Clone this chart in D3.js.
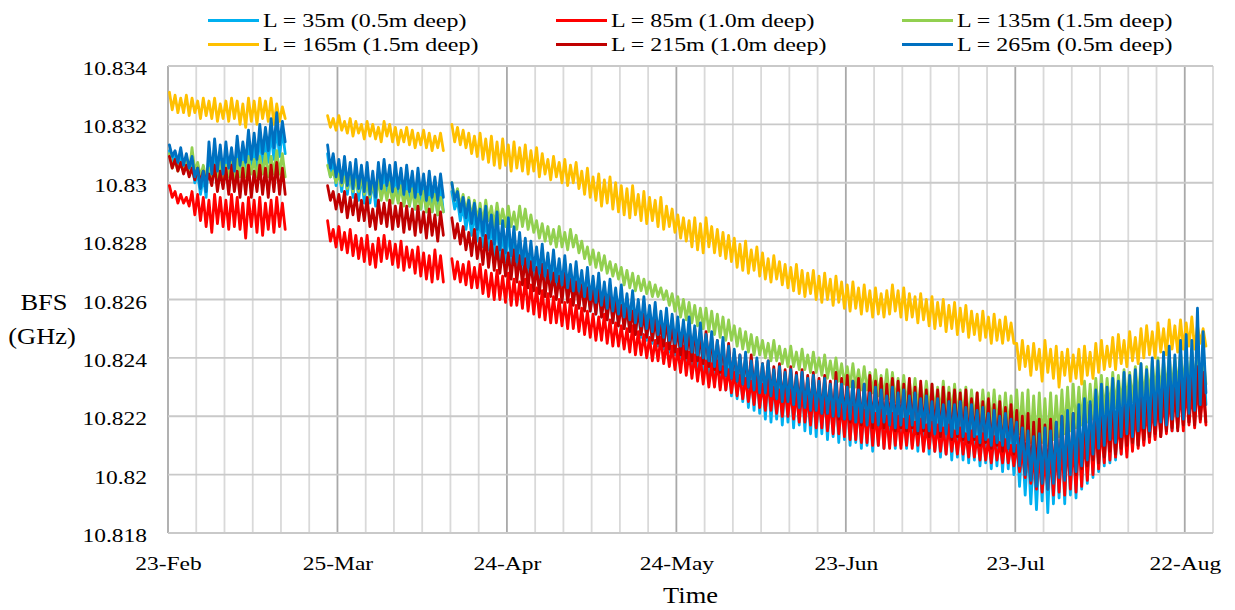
<!DOCTYPE html>
<html>
<head>
<meta charset="utf-8">
<script src="https://cdn.jsdelivr.net/npm/d3@7"></script>
<style>
  html, body { margin: 0; padding: 0; background: #fff; }
  svg { display: block; font-family: "Liberation Serif", "Times New Roman", serif; fill: #000; }
</style>
</head>
<body>
<svg id="chart" width="1235" height="610"></svg>
<script>
// Brillouin frequency shift (GHz) along the cable: one daily peak and one daily
// trough per location, for the three recording periods.
const periodStarts = ["2017-02-23", "2017-03-23", "2017-04-14"];
const seriesLabels = ["L = 35m (0.5m deep)", "L = 85m (1.0m deep)", "L = 135m (1.5m deep)",
                      "L = 165m (1.5m deep)", "L = 215m (1.0m deep)", "L = 265m (0.5m deep)"];
const seriesColors = ["#00B0F0", "#FF0000", "#92D050", "#FFC000", "#C00000", "#0070C0"];
const dateTicks = ["2017-02-23", "2017-03-25", "2017-04-24", "2017-05-24", "2017-06-23", "2017-07-23", "2017-08-22"];
const bfsTicks = [10.818, 10.82, 10.822, 10.824, 10.826, 10.828, 10.83, 10.832, 10.834];

// L = 35m
const l35Peak = [
  [10.8311,10.8310,10.8310,10.8308,10.8307,10.8303,10.8302,10.8310,10.8311,10.8310,10.8311,10.8310,10.8313,10.8311,10.8314,10.8313,10.8316,10.8315,10.8317,10.8319,10.8318],
  [10.8310,10.8307,10.8305,10.8306,10.8304,10.8305,10.8303,10.8304,10.8301,10.8304,10.8305,10.8303,10.8304,10.8302,10.8302,10.8301,10.8301,10.8300,10.8300,10.8299,10.8299],
  [10.8297,10.8294,10.8292,10.8291,10.8290,10.8288,10.8289,10.8286,10.8287,10.8284,
   10.8285,10.8282,10.8280,10.8278,10.8277,10.8275,10.8276,10.8273,10.8274,10.8271,
   10.8272,10.8269,10.8270,10.8267,10.8268,10.8265,10.8266,10.8263,10.8264,10.8261,
   10.8262,10.8259,10.8260,10.8257,10.8258,10.8255,10.8256,10.8253,10.8254,10.8252,
   10.8251,10.8250,10.8251,10.8248,10.8249,10.8245,10.8246,10.8243,10.8244,10.8241,
   10.8240,10.8238,10.8239,10.8236,10.8237,10.8235,10.8236,10.8233,10.8234,10.8232,
   10.8233,10.8231,10.8232,10.8230,10.8231,10.8229,10.8230,10.8228,10.8229,10.8228,
   10.8227,10.8229,10.8226,10.8228,10.8225,10.8227,10.8226,10.8224,10.8227,10.8225,
   10.8226,10.8224,10.8225,10.8223,10.8224,10.8222,10.8223,10.8221,10.8222,10.8221,
   10.8222,10.8220,10.8221,10.8219,10.8220,10.8218,10.8219,10.8217,10.8218,10.8216,
   10.8214,10.8212,10.8210,10.8208,10.8209,10.8211,10.8210,10.8213,10.8215,10.8217,
   10.8217,10.8220,10.8222,10.8221,10.8225,10.8227,10.8226,10.8229,10.8228,10.8231,
   10.8230,10.8232,10.8234,10.8232,10.8236,10.8235,10.8238,10.8240,10.8237,10.8242,
   10.8244,10.8242,10.8250,10.8245]
];
const l35Trough = [
  [10.8307,10.8305,10.8304,10.8303,10.8300,10.8296,10.8295,10.8300,10.8301,10.8300,10.8302,10.8301,10.8303,10.8303,10.8305,10.8304,10.8306,10.8307,10.8308,10.8309,10.8310],
  [10.8302,10.8299,10.8297,10.8296,10.8295,10.8294,10.8293,10.8293,10.8292,10.8295,10.8295,10.8294,10.8294,10.8293,10.8292,10.8291,10.8291,10.8290,10.8290,10.8289,10.8290],
  [10.8291,10.8287,10.8284,10.8282,10.8280,10.8278,10.8277,10.8275,10.8273,10.8272,
   10.8271,10.8269,10.8268,10.8267,10.8266,10.8265,10.8264,10.8263,10.8262,10.8261,
   10.8260,10.8259,10.8258,10.8257,10.8256,10.8255,10.8254,10.8253,10.8252,10.8251,
   10.8250,10.8249,10.8248,10.8247,10.8246,10.8245,10.8244,10.8243,10.8242,10.8241,
   10.8240,10.8238,10.8237,10.8235,10.8234,10.8232,10.8231,10.8230,10.8229,10.8227,
   10.8226,10.8225,10.8223,10.8222,10.8221,10.8219,10.8218,10.8219,10.8217,10.8218,
   10.8216,10.8217,10.8215,10.8214,10.8213,10.8214,10.8212,10.8213,10.8211,10.8212,
   10.8210,10.8211,10.8209,10.8210,10.8208,10.8210,10.8209,10.8210,10.8209,10.8210,
   10.8209,10.8210,10.8208,10.8209,10.8207,10.8208,10.8206,10.8207,10.8205,10.8206,
   10.8205,10.8204,10.8205,10.8203,10.8204,10.8202,10.8203,10.8201,10.8202,10.8200,
   10.8196,10.8193,10.8190,10.8188,10.8191,10.8187,10.8190,10.8192,10.8190,10.8193,
   10.8192,10.8195,10.8197,10.8199,10.8201,10.8203,10.8204,10.8205,10.8207,10.8208,
   10.8209,10.8210,10.8211,10.8212,10.8213,10.8214,10.8215,10.8215,10.8216,10.8217,
   10.8218,10.8219,10.8221,10.8224]
];

// L = 85m
const l85Peak = [
  [10.8299,10.8297,10.8296,10.8295,10.8297,10.8296,10.8295,10.8294,10.8296,10.8295,10.8294,10.8296,10.8295,10.8293,10.8295,10.8294,10.8295,10.8293,10.8294,10.8295,10.8293],
  [10.8287,10.8284,10.8285,10.8283,10.8284,10.8282,10.8281,10.8282,10.8279,10.8281,10.8282,10.8280,10.8279,10.8280,10.8278,10.8277,10.8278,10.8276,10.8275,10.8277,10.8275],
  [10.8274,10.8273,10.8272,10.8273,10.8271,10.8272,10.8270,10.8269,10.8270,10.8268,
   10.8269,10.8267,10.8266,10.8267,10.8265,10.8264,10.8263,10.8262,10.8261,10.8260,
   10.8259,10.8260,10.8258,10.8257,10.8256,10.8255,10.8254,10.8255,10.8253,10.8252,
   10.8251,10.8250,10.8251,10.8249,10.8248,10.8247,10.8246,10.8247,10.8245,10.8244,
   10.8243,10.8244,10.8242,10.8241,10.8240,10.8239,10.8238,10.8239,10.8237,10.8236,
   10.8235,10.8234,10.8233,10.8232,10.8233,10.8231,10.8232,10.8230,10.8229,10.8230,
   10.8229,10.8228,10.8229,10.8227,10.8228,10.8226,10.8227,10.8225,10.8226,10.8224,
   10.8225,10.8223,10.8224,10.8222,10.8223,10.8221,10.8222,10.8220,10.8221,10.8220,
   10.8219,10.8220,10.8218,10.8219,10.8217,10.8218,10.8217,10.8216,10.8217,10.8215,
   10.8216,10.8214,10.8215,10.8213,10.8214,10.8212,10.8213,10.8211,10.8212,10.8210,
   10.8210,10.8208,10.8209,10.8206,10.8207,10.8205,10.8207,10.8209,10.8210,10.8212,
   10.8211,10.8213,10.8214,10.8215,10.8217,10.8216,10.8218,10.8219,10.8218,10.8220,
   10.8221,10.8222,10.8221,10.8223,10.8224,10.8225,10.8226,10.8227,10.8228,10.8229,
   10.8230,10.8229,10.8231,10.8229]
];
const l85Trough = [
  [10.8295,10.8293,10.8293,10.8292,10.8289,10.8287,10.8285,10.8283,10.8286,10.8285,10.8284,10.8285,10.8284,10.8281,10.8285,10.8283,10.8282,10.8284,10.8283,10.8285,10.8284],
  [10.8280,10.8278,10.8277,10.8276,10.8275,10.8274,10.8273,10.8272,10.8271,10.8273,10.8274,10.8272,10.8271,10.8270,10.8271,10.8269,10.8268,10.8267,10.8266,10.8267,10.8266],
  [10.8267,10.8266,10.8265,10.8264,10.8264,10.8262,10.8261,10.8260,10.8260,10.8259,
   10.8258,10.8258,10.8257,10.8256,10.8255,10.8254,10.8253,10.8252,10.8252,10.8251,
   10.8250,10.8250,10.8249,10.8248,10.8247,10.8246,10.8246,10.8245,10.8244,10.8244,
   10.8243,10.8242,10.8241,10.8241,10.8240,10.8239,10.8239,10.8238,10.8237,10.8236,
   10.8235,10.8234,10.8233,10.8232,10.8231,10.8230,10.8230,10.8229,10.8229,10.8228,
   10.8227,10.8226,10.8225,10.8224,10.8223,10.8222,10.8222,10.8221,10.8220,10.8220,
   10.8219,10.8218,10.8218,10.8217,10.8216,10.8216,10.8215,10.8214,10.8214,10.8213,
   10.8212,10.8212,10.8211,10.8211,10.8210,10.8210,10.8209,10.8209,10.8210,10.8209,
   10.8210,10.8209,10.8210,10.8208,10.8209,10.8208,10.8208,10.8207,10.8208,10.8207,
   10.8207,10.8206,10.8206,10.8205,10.8205,10.8204,10.8205,10.8204,10.8204,10.8203,
   10.8201,10.8199,10.8197,10.8195,10.8194,10.8195,10.8193,10.8194,10.8193,10.8195,
   10.8194,10.8196,10.8198,10.8200,10.8202,10.8204,10.8205,10.8206,10.8207,10.8206,
   10.8208,10.8209,10.8210,10.8211,10.8212,10.8213,10.8214,10.8215,10.8216,10.8215,
   10.8217,10.8216,10.8218,10.8217]
];

// L = 135m
const l135Peak = [
  [10.8310,10.8308,10.8307,10.8308,10.8312,10.8307,10.8306,10.8305,10.8306,10.8307,10.8306,10.8307,10.8308,10.8307,10.8309,10.8308,10.8309,10.8310,10.8309,10.8311,10.8310],
  [10.8306,10.8304,10.8303,10.8302,10.8303,10.8301,10.8302,10.8300,10.8300,10.8301,10.8299,10.8300,10.8298,10.8299,10.8297,10.8298,10.8296,10.8297,10.8295,10.8296,10.8295],
  [10.8300,10.8298,10.8296,10.8295,10.8294,10.8293,10.8294,10.8292,10.8293,10.8291,
   10.8292,10.8290,10.8292,10.8291,10.8289,10.8287,10.8286,10.8285,10.8284,10.8285,
   10.8283,10.8284,10.8282,10.8280,10.8278,10.8277,10.8276,10.8275,10.8273,10.8272,
   10.8271,10.8270,10.8269,10.8268,10.8267,10.8266,10.8265,10.8264,10.8263,10.8262,
   10.8261,10.8260,10.8259,10.8258,10.8257,10.8257,10.8256,10.8255,10.8254,10.8253,
   10.8251,10.8250,10.8249,10.8248,10.8247,10.8246,10.8245,10.8246,10.8244,10.8243,
   10.8244,10.8242,10.8243,10.8241,10.8242,10.8240,10.8241,10.8239,10.8240,10.8238,
   10.8237,10.8238,10.8236,10.8237,10.8235,10.8236,10.8234,10.8236,10.8235,10.8233,
   10.8234,10.8232,10.8233,10.8231,10.8232,10.8231,10.8230,10.8232,10.8230,10.8231,
   10.8229,10.8230,10.8229,10.8228,10.8229,10.8228,10.8229,10.8227,10.8228,10.8227,
   10.8229,10.8228,10.8229,10.8227,10.8228,10.8226,10.8228,10.8227,10.8229,10.8230,
   10.8231,10.8230,10.8232,10.8231,10.8233,10.8234,10.8233,10.8235,10.8234,10.8236,
   10.8235,10.8237,10.8238,10.8237,10.8239,10.8240,10.8239,10.8241,10.8240,10.8242,
   10.8241,10.8243,10.8242,10.8241]
];
const l135Trough = [
  [10.8305,10.8304,10.8304,10.8303,10.8304,10.8302,10.8301,10.8301,10.8302,10.8301,10.8302,10.8301,10.8302,10.8302,10.8303,10.8302,10.8303,10.8302,10.8303,10.8303,10.8302],
  [10.8302,10.8300,10.8299,10.8298,10.8297,10.8297,10.8296,10.8295,10.8295,10.8294,10.8294,10.8293,10.8293,10.8292,10.8292,10.8291,10.8291,10.8290,10.8290,10.8289,10.8290],
  [10.8294,10.8292,10.8290,10.8288,10.8287,10.8286,10.8287,10.8285,10.8286,10.8285,
   10.8285,10.8284,10.8285,10.8284,10.8283,10.8281,10.8280,10.8279,10.8278,10.8278,
   10.8277,10.8278,10.8276,10.8274,10.8272,10.8271,10.8270,10.8269,10.8268,10.8267,
   10.8265,10.8264,10.8263,10.8263,10.8262,10.8261,10.8261,10.8260,10.8258,10.8256,
   10.8254,10.8253,10.8252,10.8251,10.8250,10.8249,10.8248,10.8247,10.8246,10.8246,
   10.8244,10.8243,10.8242,10.8241,10.8241,10.8240,10.8239,10.8239,10.8238,10.8237,
   10.8237,10.8236,10.8236,10.8235,10.8235,10.8234,10.8233,10.8233,10.8232,10.8231,
   10.8230,10.8230,10.8229,10.8229,10.8228,10.8227,10.8226,10.8226,10.8225,10.8225,
   10.8224,10.8224,10.8223,10.8223,10.8222,10.8222,10.8221,10.8221,10.8221,10.8220,
   10.8220,10.8219,10.8219,10.8218,10.8218,10.8217,10.8217,10.8216,10.8216,10.8215,
   10.8214,10.8212,10.8211,10.8210,10.8211,10.8210,10.8212,10.8213,10.8214,10.8215,
   10.8216,10.8217,10.8218,10.8219,10.8220,10.8221,10.8222,10.8223,10.8224,10.8225,
   10.8225,10.8226,10.8226,10.8227,10.8228,10.8228,10.8229,10.8229,10.8230,10.8231,
   10.8231,10.8232,10.8232,10.8231]
];

// L = 165m
const l165Peak = [
  [10.8331,10.8330,10.8329,10.8330,10.8329,10.8328,10.8329,10.8328,10.8329,10.8327,10.8328,10.8329,10.8328,10.8327,10.8329,10.8328,10.8329,10.8328,10.8329,10.8327,10.8326],
  [10.8323,10.8322,10.8323,10.8321,10.8322,10.8321,10.8320,10.8321,10.8320,10.8319,10.8321,10.8320,10.8319,10.8318,10.8319,10.8318,10.8317,10.8318,10.8317,10.8316,10.8317],
  [10.8320,10.8319,10.8318,10.8317,10.8316,10.8317,10.8315,10.8316,10.8314,10.8315,
   10.8313,10.8314,10.8312,10.8313,10.8311,10.8312,10.8310,10.8308,10.8309,10.8307,
   10.8308,10.8306,10.8307,10.8304,10.8305,10.8302,10.8303,10.8301,10.8302,10.8300,
   10.8299,10.8298,10.8299,10.8296,10.8297,10.8295,10.8294,10.8295,10.8292,10.8291,
   10.8289,10.8288,10.8287,10.8288,10.8286,10.8288,10.8285,10.8284,10.8283,10.8282,
   10.8281,10.8279,10.8280,10.8277,10.8278,10.8276,10.8274,10.8275,10.8273,10.8272,
   10.8271,10.8272,10.8270,10.8269,10.8270,10.8268,10.8269,10.8267,10.8268,10.8266,
   10.8265,10.8266,10.8264,10.8265,10.8263,10.8264,10.8262,10.8263,10.8265,10.8263,
   10.8264,10.8262,10.8261,10.8262,10.8260,10.8261,10.8259,10.8260,10.8258,10.8259,
   10.8257,10.8258,10.8256,10.8255,10.8256,10.8254,10.8255,10.8253,10.8254,10.8252,
   10.8245,10.8246,10.8244,10.8245,10.8243,10.8246,10.8243,10.8244,10.8242,10.8243,
   10.8241,10.8243,10.8244,10.8242,10.8245,10.8246,10.8244,10.8247,10.8248,10.8246,
   10.8249,10.8247,10.8250,10.8251,10.8249,10.8252,10.8250,10.8253,10.8251,10.8253,
   10.8252,10.8254,10.8251,10.8250]
];
const l165Trough = [
  [10.8325,10.8324,10.8324,10.8323,10.8324,10.8322,10.8323,10.8322,10.8321,10.8322,10.8321,10.8322,10.8320,10.8319,10.8321,10.8320,10.8322,10.8321,10.8320,10.8321,10.8322],
  [10.8319,10.8318,10.8318,10.8317,10.8316,10.8317,10.8315,10.8316,10.8315,10.8314,10.8316,10.8314,10.8313,10.8314,10.8313,10.8312,10.8313,10.8312,10.8311,10.8312,10.8311],
  [10.8314,10.8313,10.8312,10.8310,10.8309,10.8308,10.8307,10.8306,10.8305,10.8306,
   10.8304,10.8305,10.8304,10.8303,10.8304,10.8302,10.8303,10.8301,10.8302,10.8300,
   10.8299,10.8300,10.8298,10.8296,10.8295,10.8294,10.8292,10.8293,10.8291,10.8290,
   10.8289,10.8288,10.8289,10.8287,10.8286,10.8287,10.8285,10.8284,10.8285,10.8283,
   10.8281,10.8280,10.8278,10.8277,10.8276,10.8278,10.8276,10.8275,10.8274,10.8273,
   10.8271,10.8270,10.8269,10.8270,10.8268,10.8267,10.8266,10.8267,10.8265,10.8264,
   10.8263,10.8262,10.8261,10.8262,10.8260,10.8259,10.8260,10.8258,10.8259,10.8257,
   10.8256,10.8257,10.8255,10.8256,10.8254,10.8255,10.8254,10.8255,10.8256,10.8254,
   10.8253,10.8254,10.8252,10.8253,10.8251,10.8250,10.8251,10.8249,10.8250,10.8248,
   10.8249,10.8247,10.8248,10.8246,10.8247,10.8245,10.8246,10.8245,10.8246,10.8245,
   10.8236,10.8237,10.8234,10.8236,10.8232,10.8235,10.8233,10.8230,10.8234,10.8232,
   10.8233,10.8231,10.8234,10.8233,10.8235,10.8236,10.8237,10.8236,10.8238,10.8237,
   10.8239,10.8238,10.8240,10.8241,10.8240,10.8242,10.8241,10.8243,10.8242,10.8243,
   10.8244,10.8243,10.8245,10.8244]
];

// L = 215m
const l215Peak = [
  [10.8309,10.8308,10.8307,10.8306,10.8305,10.8305,10.8304,10.8303,10.8306,10.8304,10.8305,10.8306,10.8304,10.8305,10.8306,10.8304,10.8306,10.8305,10.8306,10.8307,10.8305],
  [10.8299,10.8297,10.8296,10.8297,10.8295,10.8296,10.8294,10.8295,10.8291,10.8294,10.8293,10.8294,10.8292,10.8293,10.8292,10.8291,10.8292,10.8290,10.8291,10.8289,10.8290],
  [10.8288,10.8286,10.8285,10.8283,10.8284,10.8281,10.8282,10.8280,10.8278,10.8277,
   10.8276,10.8277,10.8275,10.8274,10.8273,10.8271,10.8272,10.8270,10.8269,10.8268,
   10.8269,10.8267,10.8266,10.8265,10.8264,10.8263,10.8264,10.8261,10.8262,10.8260,
   10.8258,10.8257,10.8256,10.8257,10.8255,10.8254,10.8253,10.8252,10.8253,10.8251,
   10.8250,10.8251,10.8249,10.8250,10.8248,10.8249,10.8247,10.8246,10.8244,10.8245,
   10.8242,10.8241,10.8240,10.8241,10.8239,10.8238,10.8239,10.8237,10.8238,10.8236,
   10.8237,10.8235,10.8236,10.8234,10.8235,10.8233,10.8234,10.8232,10.8235,10.8233,
   10.8234,10.8232,10.8233,10.8231,10.8234,10.8232,10.8233,10.8231,10.8233,10.8232,
   10.8231,10.8233,10.8230,10.8232,10.8229,10.8231,10.8229,10.8230,10.8228,10.8229,
   10.8228,10.8229,10.8226,10.8228,10.8225,10.8226,10.8224,10.8225,10.8223,10.8224,
   10.8222,10.8220,10.8221,10.8218,10.8219,10.8217,10.8219,10.8218,10.8220,10.8219,
   10.8221,10.8220,10.8222,10.8224,10.8223,10.8225,10.8224,10.8227,10.8226,10.8228,
   10.8227,10.8229,10.8231,10.8230,10.8232,10.8231,10.8233,10.8234,10.8232,10.8235,
   10.8236,10.8234,10.8237,10.8235]
];
const l215Trough = [
  [10.8305,10.8304,10.8303,10.8302,10.8301,10.8300,10.8300,10.8299,10.8297,10.8298,10.8296,10.8297,10.8295,10.8296,10.8295,10.8297,10.8296,10.8295,10.8297,10.8296,10.8296],
  [10.8294,10.8291,10.8290,10.8288,10.8289,10.8287,10.8287,10.8285,10.8284,10.8286,10.8285,10.8284,10.8285,10.8283,10.8284,10.8282,10.8283,10.8281,10.8282,10.8280,10.8282],
  [10.8281,10.8279,10.8277,10.8275,10.8274,10.8272,10.8271,10.8270,10.8269,10.8268,
   10.8267,10.8266,10.8265,10.8264,10.8263,10.8262,10.8261,10.8261,10.8260,10.8259,
   10.8259,10.8258,10.8257,10.8256,10.8256,10.8255,10.8254,10.8253,10.8252,10.8251,
   10.8250,10.8249,10.8248,10.8248,10.8247,10.8246,10.8245,10.8244,10.8243,10.8242,
   10.8241,10.8240,10.8239,10.8239,10.8238,10.8237,10.8236,10.8235,10.8234,10.8233,
   10.8232,10.8231,10.8230,10.8229,10.8228,10.8228,10.8227,10.8226,10.8225,10.8225,
   10.8224,10.8224,10.8223,10.8222,10.8222,10.8221,10.8221,10.8220,10.8219,10.8219,
   10.8218,10.8219,10.8217,10.8218,10.8216,10.8217,10.8216,10.8217,10.8215,10.8216,
   10.8215,10.8216,10.8214,10.8215,10.8213,10.8214,10.8213,10.8214,10.8212,10.8213,
   10.8212,10.8211,10.8212,10.8210,10.8211,10.8209,10.8210,10.8208,10.8209,10.8207,
   10.8204,10.8201,10.8199,10.8200,10.8197,10.8199,10.8198,10.8200,10.8199,10.8201,
   10.8200,10.8202,10.8203,10.8205,10.8204,10.8206,10.8208,10.8207,10.8209,10.8210,
   10.8211,10.8210,10.8212,10.8213,10.8214,10.8213,10.8215,10.8216,10.8215,10.8217,
   10.8218,10.8217,10.8219,10.8218]
];

// L = 265m
const l265Peak = [
  [10.8313,10.8311,10.8312,10.8310,10.8309,10.8305,10.8304,10.8314,10.8315,10.8313,10.8314,10.8312,10.8316,10.8314,10.8318,10.8317,10.8320,10.8319,10.8322,10.8324,10.8321],
  [10.8313,10.8310,10.8308,10.8309,10.8307,10.8308,10.8306,10.8307,10.8304,10.8307,10.8308,10.8306,10.8307,10.8305,10.8306,10.8304,10.8305,10.8303,10.8304,10.8302,10.8303],
  [10.8300,10.8297,10.8295,10.8294,10.8293,10.8291,10.8292,10.8289,10.8290,10.8287,
   10.8288,10.8285,10.8283,10.8281,10.8280,10.8278,10.8279,10.8276,10.8277,10.8274,
   10.8275,10.8272,10.8273,10.8270,10.8271,10.8268,10.8269,10.8266,10.8267,10.8264,
   10.8265,10.8262,10.8263,10.8260,10.8261,10.8258,10.8259,10.8256,10.8257,10.8255,
   10.8254,10.8253,10.8254,10.8251,10.8252,10.8248,10.8249,10.8246,10.8247,10.8244,
   10.8243,10.8241,10.8242,10.8239,10.8240,10.8238,10.8239,10.8236,10.8237,10.8235,
   10.8236,10.8234,10.8235,10.8233,10.8234,10.8232,10.8233,10.8231,10.8232,10.8231,
   10.8230,10.8232,10.8229,10.8231,10.8228,10.8230,10.8229,10.8227,10.8230,10.8228,
   10.8229,10.8227,10.8228,10.8226,10.8227,10.8225,10.8226,10.8224,10.8225,10.8224,
   10.8225,10.8223,10.8224,10.8222,10.8223,10.8221,10.8222,10.8220,10.8221,10.8219,
   10.8218,10.8216,10.8215,10.8213,10.8214,10.8216,10.8215,10.8218,10.8220,10.8222,
   10.8221,10.8224,10.8226,10.8225,10.8229,10.8231,10.8230,10.8233,10.8232,10.8235,
   10.8234,10.8236,10.8238,10.8236,10.8240,10.8239,10.8242,10.8244,10.8241,10.8246,
   10.8248,10.8246,10.8257,10.8249]
];
const l265Trough = [
  [10.8309,10.8307,10.8306,10.8305,10.8302,10.8298,10.8297,10.8303,10.8304,10.8303,10.8305,10.8304,10.8306,10.8307,10.8308,10.8308,10.8310,10.8311,10.8312,10.8313,10.8314],
  [10.8305,10.8302,10.8300,10.8299,10.8298,10.8298,10.8297,10.8296,10.8295,10.8298,10.8299,10.8297,10.8298,10.8296,10.8297,10.8295,10.8296,10.8294,10.8295,10.8294,10.8295],
  [10.8294,10.8290,10.8288,10.8286,10.8284,10.8282,10.8281,10.8279,10.8277,10.8276,
   10.8275,10.8273,10.8272,10.8271,10.8270,10.8269,10.8268,10.8267,10.8266,10.8265,
   10.8264,10.8263,10.8263,10.8261,10.8260,10.8259,10.8258,10.8257,10.8256,10.8255,
   10.8254,10.8253,10.8252,10.8251,10.8250,10.8249,10.8248,10.8247,10.8246,10.8245,
   10.8244,10.8243,10.8242,10.8241,10.8240,10.8239,10.8237,10.8236,10.8234,10.8233,
   10.8232,10.8231,10.8230,10.8229,10.8228,10.8228,10.8227,10.8226,10.8225,10.8225,
   10.8224,10.8223,10.8223,10.8222,10.8222,10.8221,10.8221,10.8220,10.8220,10.8219,
   10.8219,10.8218,10.8218,10.8217,10.8218,10.8217,10.8218,10.8217,10.8216,10.8217,
   10.8216,10.8217,10.8215,10.8216,10.8215,10.8214,10.8215,10.8214,10.8213,10.8214,
   10.8213,10.8212,10.8213,10.8211,10.8212,10.8210,10.8211,10.8210,10.8209,10.8208,
   10.8203,10.8200,10.8198,10.8196,10.8197,10.8195,10.8197,10.8199,10.8198,10.8200,
   10.8201,10.8203,10.8205,10.8207,10.8209,10.8210,10.8212,10.8211,10.8213,10.8214,
   10.8213,10.8215,10.8216,10.8215,10.8217,10.8218,10.8217,10.8219,10.8220,10.8219,
   10.8221,10.8222,10.8224,10.8228]
];

const seriesPeaks = [l35Peak, l85Peak, l135Peak, l165Peak, l215Peak, l265Peak];
const seriesTroughs = [l35Trough, l85Trough, l135Trough, l165Trough, l215Trough, l265Trough];

// ---------------------------------------------------------------- layout
const svg = d3.select("#chart");
const plot = { left: 168, right: 1213, top: 66, bottom: 533 };
const parseDate = d3.utcParse("%Y-%m-%d");
const axisStart = parseDate(periodStarts[0]);
const axisEnd = d3.utcDay.offset(axisStart, 185);

const x = d3.scaleUtc().domain([axisStart, axisEnd]).range([plot.left, plot.right]);
const y = d3.scaleLinear().domain([bfsTicks[0], bfsTicks[bfsTicks.length - 1]]).range([plot.bottom, plot.top]);

// text in this chart is set slightly wide
function wideText(sel, str, tx, ty, size, sx, anchor) {
  return sel.append("text")
    .attr("transform", `translate(${tx},${ty}) scale(${sx},1)`)
    .attr("text-anchor", anchor)
    .style("font-size", size + "px")
    .text(str);
}

// ---------------------------------------------------------------- grid
const grid = svg.append("g");
const gridDays = d3.range(0, 186, 5);
grid.selectAll("line.v")
  .data(gridDays)
  .join("line")
  .attr("x1", d => x(d3.utcDay.offset(axisStart, d)))
  .attr("x2", d => x(d3.utcDay.offset(axisStart, d)))
  .attr("y1", plot.top).attr("y2", plot.bottom)
  .attr("stroke", d => (d % 30 === 0) ? "#A9A9A9" : "#D9D9D9")
  .attr("stroke-width", 1.8);
grid.selectAll("line.h")
  .data(bfsTicks)
  .join("line")
  .attr("x1", plot.left).attr("x2", plot.right)
  .attr("y1", d => y(d)).attr("y2", d => y(d))
  .attr("stroke", "#C9C9C9")
  .attr("stroke-width", 1.8);

// ---------------------------------------------------------------- axes
const tickSize = 18.5, tickStretch = 1.27;
const yAxis = svg.append("g")
  .attr("transform", `translate(${plot.left},0)`)
  .call(d3.axisLeft(y).tickValues(bfsTicks).tickSize(0).tickFormat(d => String(+d.toFixed(3))));
yAxis.select(".domain").remove();
yAxis.selectAll("text")
  .attr("x", -21 / tickStretch).attr("y", 0).attr("dy", "0.46em")
  .attr("transform", `scale(${tickStretch},1)`)
  .style("font-size", tickSize + "px")
  .style("font-family", "'Liberation Serif', 'Times New Roman', serif")
  .attr("fill", "#000");

const xAxis = svg.append("g")
  .attr("transform", `translate(0,${plot.bottom})`)
  .call(d3.axisBottom(x).tickValues(dateTicks.map(parseDate)).tickSize(0).tickFormat(d3.utcFormat("%-d-%b")));
xAxis.select(".domain").remove();
xAxis.selectAll("text")
  .attr("x", 0).attr("y", 37).attr("dy", 0)
  .attr("transform", `scale(${tickStretch},1)`)
  .style("font-size", tickSize + "px")
  .style("font-family", "'Liberation Serif', 'Times New Roman', serif")
  .attr("fill", "#000");

// axis titles
const titles = svg.append("g");
wideText(titles, "Time", (plot.left + plot.right) / 2, 603, 23, 1.15, "middle");
wideText(titles, "BFS", 44, 310, 23, 1.15, "middle");
wideText(titles, "(GHz)", 42, 344, 23, 1.15, "middle");

// ---------------------------------------------------------------- series
const line = d3.line().x(d => x(d.t)).y(d => y(d.v));
const seriesLayer = svg.append("g")
  .attr("fill", "none")
  .attr("stroke-width", 2.8)
  .attr("stroke-linejoin", "round")
  .attr("stroke-linecap", "round");

seriesLabels.forEach((label, s) => {
  periodStarts.forEach((start, p) => {
    const t0 = parseDate(start);
    const hi = seriesPeaks[s][p], lo = seriesTroughs[s][p];
    const pts = [];
    for (let i = 0; i < Math.min(hi.length, lo.length); i++) {
      pts.push({ t: d3.utcHour.offset(t0, i * 24 + 6), v: hi[i] });
      pts.push({ t: d3.utcHour.offset(t0, i * 24 + 18), v: lo[i] });
    }
    seriesLayer.append("path")
      .datum(pts)
      .attr("stroke", seriesColors[s])
      .attr("d", line);
  });
});

// ---------------------------------------------------------------- legend
const legend = svg.append("g");
const legendCols = [208, 556, 902];
const legendRows = [20.5, 44.5];
seriesLabels.forEach((label, s) => {
  const cx = legendCols[s % 3], cy = legendRows[Math.floor(s / 3)];
  legend.append("line")
    .attr("x1", cx).attr("x2", cx + 51)
    .attr("y1", cy).attr("y2", cy)
    .attr("stroke", seriesColors[s])
    .attr("stroke-width", 3);
  wideText(legend, label, cx + 55, cy + 6.5, 19, 1.26, "start");
});
</script>
</body>
</html>
